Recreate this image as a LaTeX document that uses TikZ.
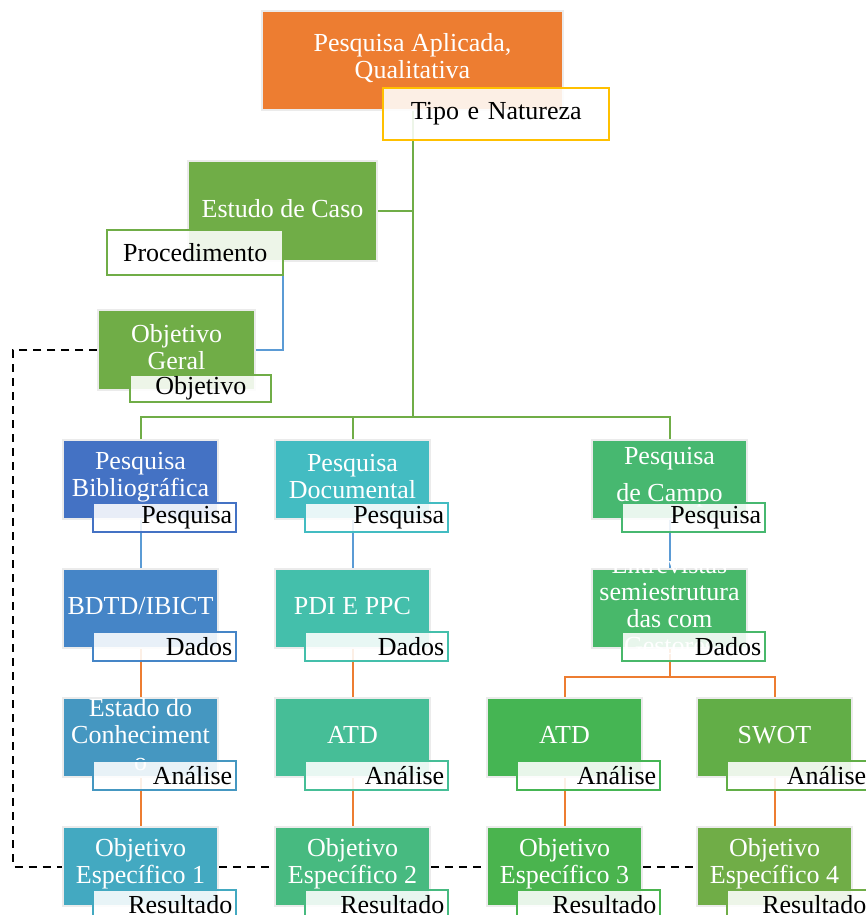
\documentclass[tikz,border=0pt]{standalone}
\usepackage{fontspec}
\setmainfont{Liberation Serif}
\usetikzlibrary{positioning}
\pgfdeclarelayer{background}
\pgfsetlayers{background,main}
\definecolor{laranja}{HTML}{ED7D31}
\definecolor{amarelo}{HTML}{FFC000}
\definecolor{verde}{HTML}{70AD47}
\definecolor{azul}{HTML}{5B9BD5}
\definecolor{cBib}{HTML}{4472C4}
\definecolor{cBdtd}{HTML}{4585C7}
\definecolor{cEst}{HTML}{4597C1}
\definecolor{cOe1}{HTML}{43A9C1}
\definecolor{cDoc}{HTML}{43BCC2}
\definecolor{cPdi}{HTML}{44BFAB}
\definecolor{cAtdb}{HTML}{46BE97}
\definecolor{cOe2}{HTML}{47BA80}
\definecolor{cCampo}{HTML}{47B870}
\definecolor{cEntr}{HTML}{48B86A}
\definecolor{cAtdc}{HTML}{45B553}
\definecolor{cOe3}{HTML}{4AB44E}
\definecolor{cSwot}{HTML}{62AE47}
\definecolor{cOe4}{HTML}{70AD47}
\tikzset{
  box/.style={fill=#1, draw=black!8, line width=0.75pt, minimum width=77.5pt, minimum height=39.5pt, inner sep=0pt},
  boxtext/.style={text=white, align=center, inner sep=0pt, yshift=1.25pt, font=\fontsize{13}{13.5}\selectfont},
  tag/.style={draw=#1, line width=1pt, fill=white, fill opacity=0.88, text opacity=1, inner sep=0pt, inner xsep=1.75pt, minimum height=14.5pt, text width=68pt, align=right, font=\fontsize{13}{13.5}\selectfont},
  conn/.style={draw=#1, line width=1pt},
  dashline/.style={draw=black, line width=1pt, dash pattern=on 4pt off 3pt}
}
\begin{document}
\begin{tikzpicture}[x=0.5pt,y=-0.5pt]
\useasboundingbox (0,0) rectangle (866,915);
% topo
\node[box=laranja, minimum width=150.5pt, minimum height=49.5pt, label={[boxtext]center:{Pesquisa Aplicada,\\Qualitativa}}] (apl) at (412.5,60.5) {};
\node[tag=amarelo, text width=109.5pt, minimum height=26pt, align=center, below right=-12pt and 60.5pt of apl.south west] (tipo) {Tipo e Natureza};
\node[box=verde, minimum width=94.5pt, minimum height=50pt, label={[boxtext]center:Estudo de Caso}] (estudo) at (282.5,211) {};
\node[tag=verde, text width=84.5pt, minimum height=22.5pt, align=center, below right=-16.5pt and -40.5pt of estudo.south west] (proc) {Procedimento};
\node[box=verde, minimum width=78.5pt, minimum height=40pt, label={[boxtext]center:{Objetivo\\Geral}}] (og) at (176.5,350) {};
\node[tag=verde, text width=67pt, minimum height=13.5pt, align=center, below right=-8.5pt and 16pt of og.south west] (obj) {Objetivo};
% pesquisa
\node[box=cBib, label={[boxtext]center:{Pesquisa\\Bibliográfica}}] (bib) at (140.5,479.5) {};
\node[box=cDoc, label={[boxtext]center:{Pesquisa\\Documental}}] (doc) at (352.5,479.5) {};
\node[box=cCampo, label={[boxtext]center:{Pesquisa\\[5pt]de Campo}}] (campo) at (669.5,479.5) {};
% dados
\node[box=cBdtd, label={[boxtext]center:BDTD/IBICT}] (bdtd) at (140.5,608.5) {};
\node[box=cPdi, label={[boxtext]center:PDI E PPC}] (pdi) at (352.5,608.5) {};
\node[box=cEntr, label={[boxtext]center:{Entrevistas\\semiestrutura\\das com\\Gestores}}] (entr) at (669.5,608.5) {};
% analise
\node[box=cEst, label={[boxtext]center:{Estado do\\Conheciment\\o}}] (estado) at (140.5,737.5) {};
\node[box=cAtdb, label={[boxtext]center:ATD}] (atdb) at (352.5,737.5) {};
\node[box=cAtdc, label={[boxtext]center:ATD}] (atdc) at (564.5,737.5) {};
\node[box=cSwot, label={[boxtext]center:SWOT}] (swot) at (774.5,737.5) {};
% resultado
\node[box=cOe1, label={[boxtext]center:{Objetivo\\Específico 1}}] (oe1) at (140.5,866.5) {};
\node[box=cOe2, label={[boxtext]center:{Objetivo\\Específico 2}}] (oe2) at (352.5,866.5) {};
\node[box=cOe3, label={[boxtext]center:{Objetivo\\Específico 3}}] (oe3) at (564.5,866.5) {};
\node[box=cOe4, label={[boxtext]center:{Objetivo\\Específico 4}}] (oe4) at (774.5,866.5) {};
\foreach \b/\c/\t in {bib/cBib/Pesquisa, doc/cDoc/Pesquisa, campo/cCampo/Pesquisa,
    bdtd/cBdtd/Dados, pdi/cPdi/Dados, entr/cEntr/Dados,
    estado/cEst/Análise, atdb/cAtdb/Análise, atdc/cAtdc/Análise, swot/cSwot/Análise,
    oe1/cOe1/Resultado, oe2/cOe2/Resultado, oe3/cOe3/Resultado, oe4/cOe4/Resultado}
  \node[tag=\c, below left=-9pt and -9pt of \b.south east] (t\b) {\t};

\begin{pgfonlayer}{background}
\coordinate (bar) at (412.5,417);
\coordinate (split) at (669.5,677);
\draw[conn=verde] (apl.south) -- (bar);
\draw[conn=verde] (estudo.east) -- (estudo.east -| bar);
\draw[conn=verde] (bib.north) |- (bar) -| (campo.north);
\draw[conn=verde] (doc.north) -- (doc.north |- bar);
\draw[conn=azul] (estudo.south) |- (og.east);
\draw[conn=azul] (bib.south) -- (bdtd.north);
\draw[conn=azul] (doc.south) -- (pdi.north);
\draw[conn=azul] (campo.south) -- (entr.north);
\draw[conn=laranja] (bdtd.south) -- (estado.north);
\draw[conn=laranja] (pdi.south) -- (atdb.north);
\draw[conn=laranja] (entr.south) -- (split);
\draw[conn=laranja] (atdc.north) |- (split) -| (swot.north);
\draw[conn=laranja] (estado.south) -- (oe1.north);
\draw[conn=laranja] (atdb.south) -- (oe2.north);
\draw[conn=laranja] (atdc.south) -- (oe3.north);
\draw[conn=laranja] (swot.south) -- (oe4.north);
%\draw[dashline] (og.west) -| (oe1.west);
\draw[dashline] (og.west) -- ++(-84,0) |- (oe1.west);
\draw[dashline] (oe1.east) -- (oe2.west);
\draw[dashline] (oe2.east) -- (oe3.west);
\draw[dashline] (oe3.east) -- (oe4.west);
\end{pgfonlayer}
\end{tikzpicture}
\end{document}
